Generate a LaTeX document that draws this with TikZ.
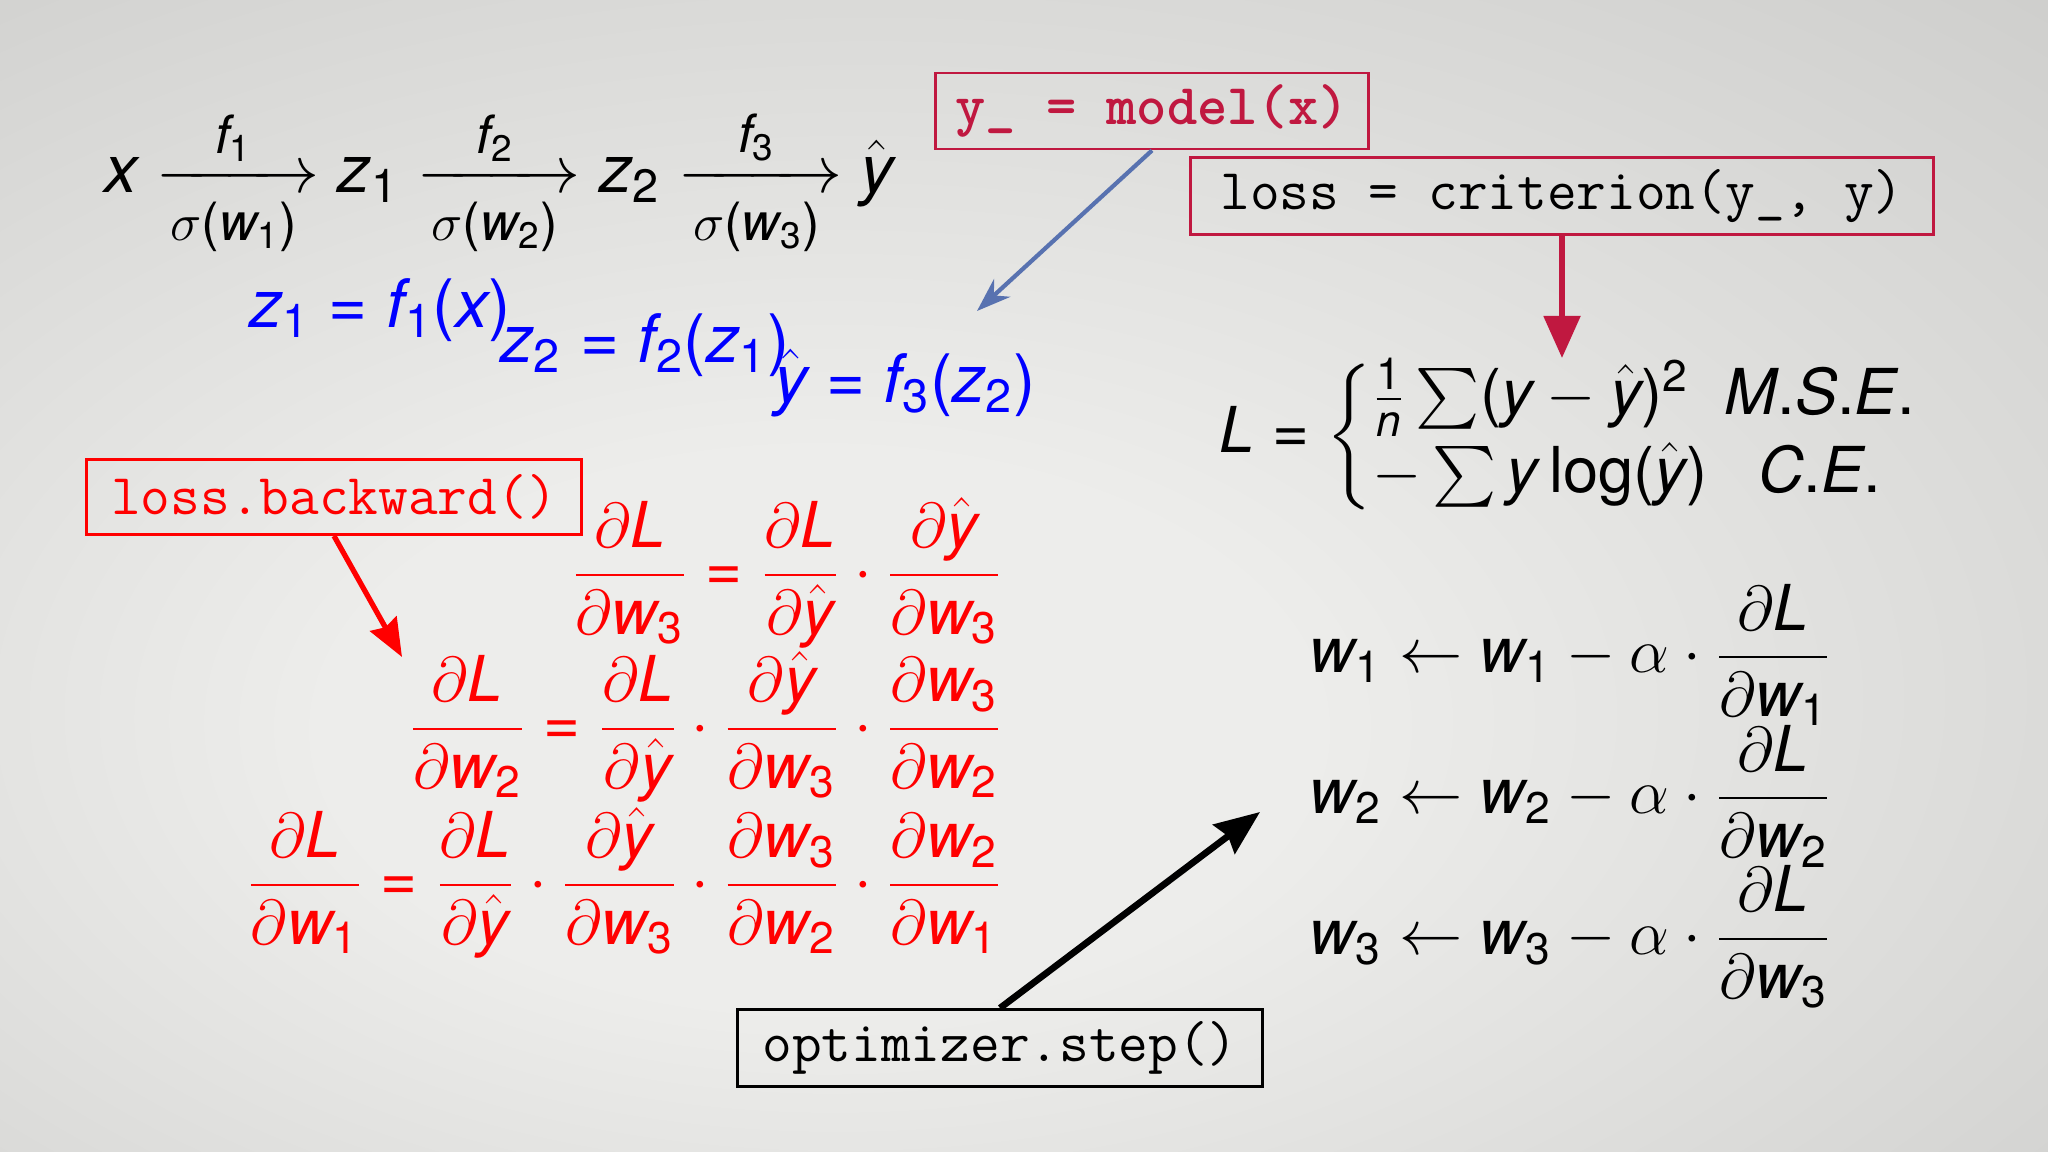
\documentclass[tikz,border=0pt]{standalone}
\usepackage{fix-cm}
\usepackage{amsmath}
\usepackage[no-math]{fontspec}
\setmainfont{TeX Gyre Heros}
\usetikzlibrary{arrows.meta}

% sans letters and digits in math, CM for greek and symbols
\SetSymbolFont{operators}{normal}{TU}{\rmdefault}{m}{n}
\DeclareSymbolFont{hlet}{TU}{\rmdefault}{m}{it}
\DeclareSymbolFont{hop}{TU}{\rmdefault}{m}{n}
\DeclareSymbolFont{cmop}{OT1}{cmr}{m}{n}
\DeclareMathAccent{\hat}{\mathalpha}{cmop}{"5E}
\DeclareMathSymbol{x}{\mathalpha}{hlet}{`x}
\DeclareMathSymbol{y}{\mathalpha}{hlet}{`y}
\DeclareMathSymbol{z}{\mathalpha}{hlet}{`z}
\DeclareMathSymbol{f}{\mathalpha}{hlet}{`f}
\DeclareMathSymbol{w}{\mathalpha}{hlet}{`w}
\DeclareMathSymbol{n}{\mathalpha}{hlet}{`n}
\DeclareMathSymbol{L}{\mathalpha}{hlet}{`L}
\DeclareMathSymbol{M}{\mathalpha}{hlet}{`M}
\DeclareMathSymbol{S}{\mathalpha}{hlet}{`S}
\DeclareMathSymbol{E}{\mathalpha}{hlet}{`E}
\DeclareMathSymbol{C}{\mathalpha}{hlet}{`C}
\DeclareMathSymbol{1}{\mathalpha}{hop}{`1}
\DeclareMathSymbol{2}{\mathalpha}{hop}{`2}
\DeclareMathSymbol{3}{\mathalpha}{hop}{`3}
\DeclareMathSymbol{=}{\mathrel}{hop}{`=}
\DeclareMathSymbol{(}{\mathopen}{hop}{`(}
\DeclareMathSymbol{)}{\mathclose}{hop}{`)}
\DeclareMathSymbol{.}{\mathord}{hop}{`.}
\newcommand{\lbl}[1]{\text{\fontsize{15}{18}\selectfont$#1$}}

\definecolor{crimson}{RGB}{192,24,64}
\definecolor{steel}{RGB}{88,114,176}
\definecolor{bgmid}{RGB}{237,237,235}
\definecolor{bgout}{RGB}{196,196,194}
\pgfdeclareradialshading{bgshade}{\pgfpoint{-6bp}{-8bp}}{color(0bp)=(bgmid); color(12bp)=(bgmid); color(50bp)=(bgout); color(75bp)=(bgout)}

\tikzset{
  codebox/.style={draw, line width=0.8pt, inner sep=0pt, font=\fontsize{16.4}{19}\selectfont\ttfamily},
  mathbig/.style={font=\fontsize{19}{23}\selectfont},
  mathmid/.style={font=\fontsize{18}{22}\selectfont},
  mathred/.style={font=\fontsize{18}{22}\selectfont, text=red},
}

\begin{document}
\begin{tikzpicture}[x=0.01cm,y=-0.01cm]
\useasboundingbox (0,0) rectangle (2048,1152);
\shade[shading=bgshade] (0,0) rectangle (2048,1152);

%% forward pass
\node[mathbig] (chain) at (499,183) {$x \xrightarrow[\lbl{\sigma(w_1)}]{\lbl{f_1}} z_1 \xrightarrow[\lbl{\sigma(w_2)}]{\lbl{f_2}} z_2 \xrightarrow[\lbl{\sigma(w_3)}]{\lbl{f_3}} \hat{y}$};
\node[mathbig, text=blue] (zone) at (380,310) {$z_1 = f_1(x)$};
\node[mathbig, text=blue] (ztwo) at (645,345) {$z_2 = f_2(z_1)$};
\node[mathbig, text=blue] (yhat) at (905,383) {$\hat{y} = f_3(z_2)$};

%% code boxes
\node[codebox, draw=crimson, text=crimson, minimum width=4.33cm, minimum height=0.76cm, font=\fontsize{16.4}{19}\selectfont\ttfamily\bfseries] (model) at (1152,111) {y\_ = model(x)};
\node[codebox, draw=crimson, minimum width=7.43cm, minimum height=0.77cm] (loss) at (1562,196) {loss = criterion(y\_, y)};
\node[codebox, draw=red, text=red, minimum width=4.95cm, minimum height=0.75cm] (backward) at (334,497) {loss.backward()};
\node[codebox, minimum width=5.25cm, minimum height=0.77cm] (optim) at (1000,1048) {optimizer.step()};

%% loss
\node[mathmid, anchor=west] (lossfn) at (1207,437) {$L = \left\{\begin{array}{@{}l@{\;}c@{}} \frac{1}{n}\sum(y-\hat{y})^2 & M.S.E. \\ -\sum y\log(\hat{y}) & C.E. \end{array}\right.$};

%% backward pass
\node[mathred, anchor=east] (dwthree) at (1015,573) {$\dfrac{\partial L}{\partial w_3} = \dfrac{\partial L}{\partial \hat{y}} \cdot \dfrac{\partial \hat{y}}{\partial w_3}$};
\node[mathred, anchor=east] (dwtwo) at (1015,727) {$\dfrac{\partial L}{\partial w_2} = \dfrac{\partial L}{\partial \hat{y}} \cdot \dfrac{\partial \hat{y}}{\partial w_3} \cdot \dfrac{\partial w_3}{\partial w_2}$};
\node[mathred, anchor=east] (dwone) at (1015,883) {$\dfrac{\partial L}{\partial w_1} = \dfrac{\partial L}{\partial \hat{y}} \cdot \dfrac{\partial \hat{y}}{\partial w_3} \cdot \dfrac{\partial w_3}{\partial w_2} \cdot \dfrac{\partial w_2}{\partial w_1}$};

%% update rules
\foreach \i/\y in {1/655, 2/796, 3/937}
  \node[mathmid, anchor=west] (upd\i) at (1297,\y) {$w_\i \leftarrow w_\i - \alpha \cdot \dfrac{\partial L}{\partial w_\i}$};

%% connectors
\coordinate (blueend) at (977,311);
\coordinate (lossend) at (1562,358);
\coordinate (redend) at (402,657);
\coordinate (stepend) at (1260,812);
\draw[steel, line width=1.2pt, -{Stealth[length=0.34cm, width=0.24cm]}] (model.south) -- (blueend);
\draw[crimson, line width=1.5pt, -{Triangle[length=0.42cm, width=0.36cm]}] (loss.south) -- (lossend);
\draw[red, line width=1.5pt, -{Stealth[length=0.38cm, width=0.3cm, inset=0.04cm]}] (backward.south) -- (redend);
\draw[black, line width=1.9pt, -{Stealth[length=0.45cm, width=0.36cm, inset=0.05cm]}] (optim.north) -- (stepend);
\end{tikzpicture}
\end{document}
